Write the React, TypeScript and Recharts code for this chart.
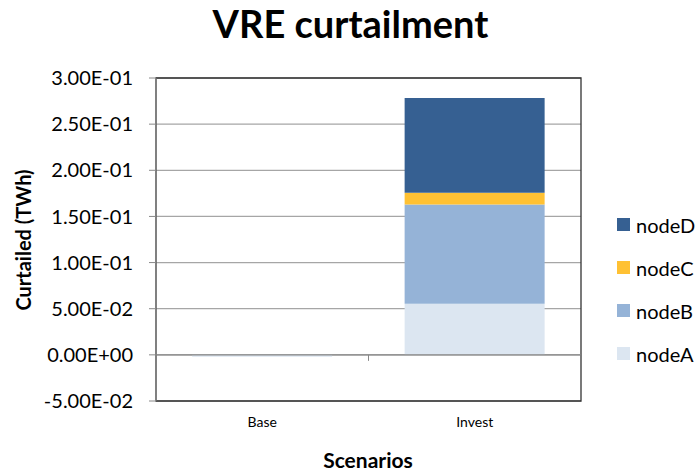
import React from 'react';
import {
  BarChart,
  Bar,
  XAxis,
  YAxis,
  CartesianGrid,
  ReferenceLine,
  ReferenceArea,
} from 'recharts';

const scenarios = ['Base', 'Invest'];
const nodeA = [-0.002, 0.0554];
const nodeB = [0, 0.1075];
const nodeC = [0, 0.0127];
const nodeD = [0, 0.1027];
const yTicks = [-0.05, 0, 0.05, 0.1, 0.15, 0.2, 0.25, 0.3];

const series = [
  { key: 'nodeA', color: '#dce6f1' },
  { key: 'nodeB', color: '#95b3d7' },
  { key: 'nodeC', color: '#ffc133' },
  { key: 'nodeD', color: '#366092' },
];

const data = scenarios.map((name, i) => ({
  name,
  nodeA: nodeA[i],
  nodeB: nodeB[i],
  nodeC: nodeC[i],
  nodeD: nodeD[i],
}));

const font = 'Lato, "Open Sans", sans-serif';

const fmtExp = (v: number) => {
  const [m, e] = v.toExponential(2).split('e');
  const sign = e[0] === '-' ? '-' : '+';
  const digits = e.replace(/[+-]/, '').padStart(2, '0');
  return `${m}E${sign}${digits}`;
};

const ZeroTick = (props: any) => {
  const vb = props.viewBox || {};
  const cx = vb.x + vb.width / 2;
  return <line x1={cx} x2={cx} y1={vb.y} y2={vb.y + 6} stroke="#888" strokeWidth={1} />;
};

export default function App() {
  return (
    <div style={{ position: 'absolute', left: 0, top: 0, width: 699, height: 470, background: '#fff', fontFamily: font }}>
      <div
        style={{
          position: 'absolute',
          left: 0,
          width: 701,
          top: 0,
          textAlign: 'center',
          fontSize: 38,
          fontWeight: 700,
          color: '#000',
        }}
      >
        VRE curtailment
      </div>
      <div
        style={{
          position: 'absolute',
          left: 23,
          top: 240,
          transform: 'translate(-50%, -50%) rotate(-90deg)',
          fontSize: 20,
          fontWeight: 700,
          whiteSpace: 'nowrap',
        }}
      >
        Curtailed (TWh)
      </div>
      <div
        style={{
          position: 'absolute',
          left: 368,
          top: 459,
          transform: 'translate(-50%, -50%)',
          fontSize: 21,
          fontWeight: 700,
        }}
      >
        Scenarios
      </div>
      <BarChart
        width={699}
        height={470}
        data={data}
        margin={{ top: 78, right: 118, bottom: 0, left: 0 }}
        barCategoryGap="17%"
      >
        <CartesianGrid vertical={false} stroke="#a6a6a6" strokeWidth={1.3} />
        <ReferenceLine y={0} stroke="#888" strokeWidth={1.3} label={<ZeroTick />} />
        <XAxis
          dataKey="name"
          axisLine={false}
          tickLine={false}
          height={69}
          tickMargin={10}
          tick={{ fontSize: 14, fill: '#000', fontFamily: font }}
        />
        <YAxis
          width={156}
          domain={[-0.05, 0.3]}
          ticks={yTicks}
          tickFormatter={fmtExp}
          axisLine={{ stroke: '#888' }}
          tickLine={{ stroke: '#888' }}
          tickSize={7}
          tickMargin={16}
          tick={{ fontSize: 20, fill: '#000', fontFamily: font }}
          interval={0}
        />
        {series.map((s) => (
          <Bar key={s.key} dataKey={s.key} stackId="a" fill={s.color} isAnimationActive={false} />
        ))}
        <ReferenceArea y1={-0.05} y2={0.3} fill="none" stroke="#333" strokeWidth={1.3} />
      </BarChart>
      <div style={{ position: 'absolute', left: 617, top: 203 }}>
        {[...series].reverse().map((s) => (
          <div key={s.key} style={{ display: 'flex', alignItems: 'center', height: 43 }}>
            <div style={{ width: 13, height: 13, background: s.color, marginRight: 6 }} />
            <span style={{ fontSize: 20, color: '#000' }}>{s.key}</span>
          </div>
        ))}
      </div>
    </div>
  );
}
